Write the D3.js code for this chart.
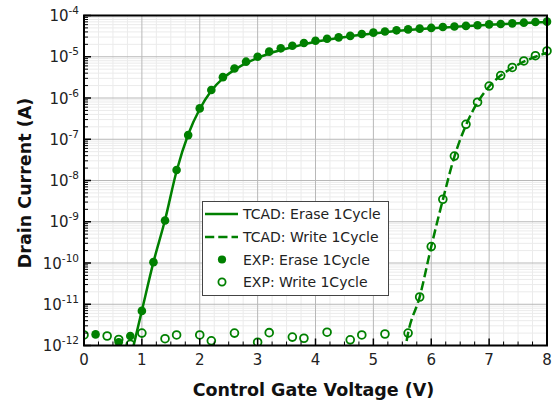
<!DOCTYPE html>
<html><head><meta charset="utf-8">
<script src="https://cdn.jsdelivr.net/npm/d3@7"></script>
<style>body{margin:0;background:#fff}svg{display:block;font-family:"DejaVu Sans",sans-serif}</style>
</head><body><div id="chart"></div>
<script>
// ---- data ----
const expEraseX = [0.2,0.6,0.8,1.0,1.2,1.4,1.6,1.8,2.0,2.2,2.4,2.6,2.8,3.0,3.2,3.4,3.6,3.8,4.0,4.2,4.4,4.6,4.8,5.0,5.2,5.4,5.6,5.8,6.0,6.2,6.4,6.6,6.8,7.0,7.2,7.4,7.6,7.8,8.0];
const expEraseY = [1.86e-12,1.2e-12,1.7e-12,6.9e-12,1.05e-10,1.07e-9,1.8e-8,1.26e-7,5.6e-7,1.56e-6,3.2e-6,5.2e-6,7.6e-6,1.0e-5,1.33e-5,1.6e-5,1.85e-5,2.15e-5,2.45e-5,2.74e-5,2.95e-5,3.2e-5,3.56e-5,3.84e-5,4.1e-5,4.37e-5,4.6e-5,4.8e-5,5.0e-5,5.25e-5,5.4e-5,5.6e-5,5.8e-5,6.1e-5,6.2e-5,6.45e-5,6.7e-5,6.95e-5,7.1e-5];
const expWriteX = [0,0.4,0.6,0.8,1.0,1.4,1.6,2.0,2.2,2.6,3.0,3.2,3.6,3.8,4.2,4.6,4.8,5.2,5.6,5.8,6.0,6.2,6.4,6.6,6.8,7.0,7.2,7.4,7.6,7.8,8.0];
const expWriteY = [1.8e-12,1.7e-12,1.4e-12,1.07e-12,2.0e-12,1.46e-12,1.8e-12,1.8e-12,1.3e-12,2.0e-12,1.2e-12,2.05e-12,1.6e-12,1.5e-12,2.1e-12,1.37e-12,1.8e-12,1.9e-12,2.0e-12,1.5e-11,2.5e-10,3.5e-9,3.9e-8,2.3e-7,7.9e-7,1.95e-6,3.5e-6,5.5e-6,7.9e-6,1.06e-5,1.38e-5];
const tcadEraseX = [0.8,1.0,1.2,1.4,1.6,1.8,2.0,2.2,2.4,2.6,2.8,3.0,3.2,3.4,3.6,3.8,4.0,4.4,4.8,5.2,5.6,6.0,6.4,6.8,7.2,7.6,8.0];
const tcadEraseY = [4.6e-13,7e-12,1.05e-10,1.1e-9,1.7e-8,1.3e-7,5.4e-7,1.5e-6,3.0e-6,4.8e-6,7e-6,9.3e-6,1.2e-5,1.45e-5,1.7e-5,2.0e-5,2.3e-5,2.85e-5,3.4e-5,3.95e-5,4.45e-5,4.9e-5,5.3e-5,5.75e-5,6.15e-5,6.55e-5,6.9e-5];
const tcadWriteX = [5.5,5.6,5.8,6.0,6.2,6.4,6.6,6.8,7.0,7.2,7.4,7.6,7.8,8.0];
const tcadWriteY = [3e-13,2e-12,1.5e-11,2.5e-10,3.4e-9,3.8e-8,2.2e-7,7.8e-7,1.9e-6,3.5e-6,5.4e-6,7.6e-6,1.0e-5,1.25e-5];
const xTicks = [0,1,2,3,4,5,6,7,8];
const yExps = [-12,-11,-10,-9,-8,-7,-6,-5,-4];
const legendLabels = ["TCAD: Erase 1Cycle","TCAD: Write 1Cycle","EXP: Erase 1Cycle","EXP: Write 1Cycle"];
const xLabel = "Control Gate Voltage (V)";
const yLabel = "Drain Current (A)";

// ---- layout ----
const W=553,H=403;
const L=84,R=547,T=15.5,B=345.5;
const green="#008000";
const svg=d3.select("#chart").append("svg").attr("width",W).attr("height",H);
const x=d3.scaleLinear().domain([0,8]).range([L,R]);
const y=d3.scaleLog().domain([1e-12,1e-4]).range([B,T]);

svg.append("defs").append("clipPath").attr("id","clip").append("rect")
  .attr("x",L).attr("y",T-6).attr("width",R-L+6).attr("height",B-T+6);

// grid
const g=svg.append("g");
const xMinor=d3.range(0,8.001,0.25).filter(v=>Math.abs(v-Math.round(v))>1e-6);
const yMinor=[];
yExps.slice(0,-1).forEach(e=>{for(let k=2;k<10;k++)yMinor.push(k*Math.pow(10,e));});
g.selectAll(".xmin").data(xMinor).join("line").attr("x1",d=>x(d)).attr("x2",d=>x(d)).attr("y1",T).attr("y2",B).attr("stroke","#ebebeb").attr("stroke-width",1);
g.selectAll(".ymin").data(yMinor).join("line").attr("y1",d=>y(d)).attr("y2",d=>y(d)).attr("x1",L).attr("x2",R).attr("stroke","#ebebeb").attr("stroke-width",1);
g.selectAll(".xmaj").data(xTicks).join("line").attr("x1",d=>x(d)).attr("x2",d=>x(d)).attr("y1",T).attr("y2",B).attr("stroke","#b8b8b8").attr("stroke-width",1);
g.selectAll(".ymaj").data(yExps).join("line").attr("y1",d=>y(Math.pow(10,d))).attr("y2",d=>y(Math.pow(10,d))).attr("x1",L).attr("x2",R).attr("stroke","#b8b8b8").attr("stroke-width",1);

// data
const plot=svg.append("g").attr("clip-path","url(#clip)");
const line=d3.line().x(d=>x(d[0])).y(d=>y(d[1])).curve(d3.curveMonotoneX);
plot.append("path").datum(tcadEraseX.map((v,i)=>[v,tcadEraseY[i]])).attr("d",line)
  .attr("fill","none").attr("stroke",green).attr("stroke-width",2.5);
plot.append("path").datum(tcadWriteX.map((v,i)=>[v,tcadWriteY[i]])).attr("d",line)
  .attr("fill","none").attr("stroke",green).attr("stroke-width",2.5).attr("stroke-dasharray","9.25,4");
plot.selectAll(".ef").data(expEraseX.map((v,i)=>[v,expEraseY[i]])).join("circle")
  .attr("cx",d=>x(d[0])).attr("cy",d=>y(d[1])).attr("r",4.3).attr("fill",green);
plot.selectAll(".wo").data(expWriteX.map((v,i)=>[v,expWriteY[i]])).join("circle")
  .attr("cx",d=>x(d[0])).attr("cy",d=>y(d[1])).attr("r",3.9).attr("fill","none").attr("stroke",green).attr("stroke-width",1.8);

// axes frame & ticks
const ax=svg.append("g");
ax.selectAll(".xt").data(xTicks).join("line").attr("x1",d=>x(d)).attr("x2",d=>x(d)).attr("y1",B).attr("y2",B-7).attr("stroke","#000").attr("stroke-width",1.5);
ax.selectAll(".xtm").data(xMinor).join("line").attr("x1",d=>x(d)).attr("x2",d=>x(d)).attr("y1",B).attr("y2",B-4).attr("stroke","#000").attr("stroke-width",1);
ax.selectAll(".yt").data(yExps).join("line").attr("y1",d=>y(Math.pow(10,d))).attr("y2",d=>y(Math.pow(10,d))).attr("x1",L).attr("x2",L+7).attr("stroke","#000").attr("stroke-width",1.5);
ax.selectAll(".ytm").data(yMinor).join("line").attr("y1",d=>y(d)).attr("y2",d=>y(d)).attr("x1",L).attr("x2",L+4).attr("stroke","#000").attr("stroke-width",1);
ax.append("rect").attr("x",L).attr("y",T).attr("width",R-L).attr("height",B-T).attr("fill","none").attr("stroke","#000").attr("stroke-width",2);

// tick labels
ax.selectAll(".xl").data(xTicks).join("text").attr("x",d=>x(d)).attr("y",364.5).attr("text-anchor","middle")
  .attr("font-size","15px").attr("fill","#222").text(d=>d);
const yl=ax.selectAll(".yl").data(yExps).join("text").attr("x",79).attr("y",d=>y(Math.pow(10,d))+5.5)
  .attr("text-anchor","end").attr("font-size","15px").attr("fill","#222");
yl.append("tspan").text("10");
yl.append("tspan").attr("dy","-7").attr("font-size","10.5px").text(d=>String(d));

// titles
svg.append("text").attr("x",313.5).attr("y",396).attr("text-anchor","middle").attr("font-size","17.5px").attr("font-weight","bold").attr("fill","#111").text(xLabel);
svg.append("text").attr("transform","translate(31,183) rotate(-90)").attr("text-anchor","middle").attr("font-size","17.5px").attr("font-weight","bold").attr("fill","#111").text(yLabel);

// legend
const lg=svg.append("g");
lg.append("rect").attr("x",202.5).attr("y",201.5).attr("width",186).attr("height",94).attr("fill","#fff").attr("stroke","#444").attr("stroke-width",1);
const rows=[214,237,259.5,282];
legendLabels.forEach((t,i)=>{
  const ry=rows[i];
  if(i<2){
    lg.append("line").attr("x1",205).attr("x2",238).attr("y1",ry).attr("y2",ry).attr("stroke",green).attr("stroke-width",2.5)
      .attr("stroke-dasharray",i===1?"9.25,4":null);
  } else if(i===2){
    lg.append("circle").attr("cx",222).attr("cy",ry).attr("r",4.1).attr("fill",green);
  } else {
    lg.append("circle").attr("cx",222).attr("cy",ry).attr("r",3.6).attr("fill","none").attr("stroke",green).attr("stroke-width",1.8);
  }
  lg.append("text").attr("x",243).attr("y",ry+5).attr("font-size","14px").attr("fill","#222").text(t);
});
</script></body></html>
